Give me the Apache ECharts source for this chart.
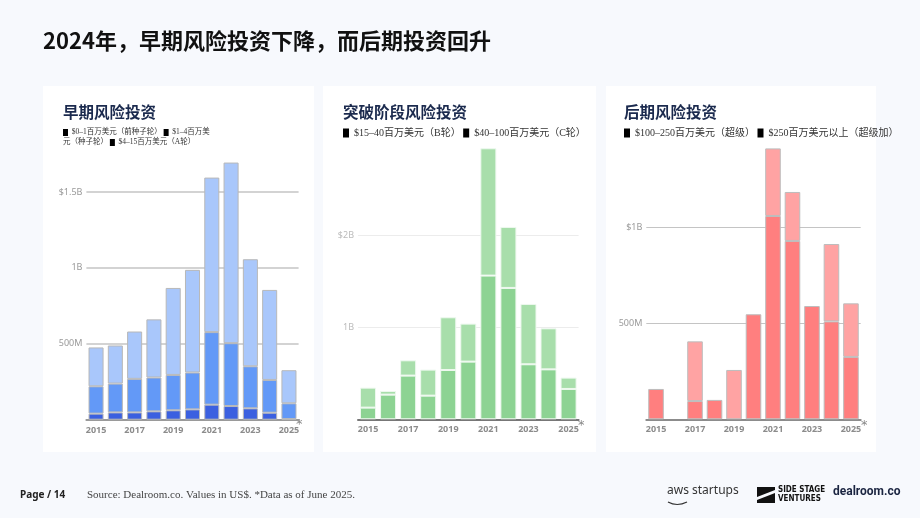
<!DOCTYPE html>
<html>
<head>
<meta charset="utf-8">
<script src="https://cdn.jsdelivr.net/npm/echarts@6/dist/echarts.min.js"></script>
<style>
  html, body { margin: 0; padding: 0; background: #f7f9fd; }
  #chart { width: 920px; height: 518px; }
</style>
</head>
<body>
<div id="chart"></div>
<script>
// 年份（类目）
const years = ['2015', '2016', '2017', '2018', '2019', '2020', '2021', '2022', '2023', '2024', '2025']

// 早期（百万美元）
const preSeed = [40, 48, 48, 55, 62, 68, 99, 90, 75, 46, 4]
const seed = [180, 190, 221, 223, 233, 243, 478, 414, 277, 216, 104]
const seriesA = [256, 251, 312, 383, 573, 676, 1018, 1190, 705, 593, 218]

// 突破阶段
const seriesB = [127, 268, 475, 257, 536, 627, 1562, 1428, 598, 543, 330]
const seriesC = [217, 40, 166, 283, 573, 413, 1384, 663, 656, 446, 123]

// 后期
const mega = [158, 0, 95, 101, 0, 547, 1059, 929, 590, 510, 325]
const superMega = [0, 0, 311, 0, 257, 0, 352, 255, 0, 403, 279]

// 刻度
const earlyTicks = { 500: '500M', 1000: '1B', 1500: '$1.5B' }
const breakoutTicks = { 1000: '1B', 2000: '$2B' }
const lateTicks = { 500: '500M', 1000: '$1B' }

const chart = echarts.init(document.getElementById('chart'))

const cjk = '"Noto Sans CJK SC", "Noto Sans", sans-serif'
const serif = '"Liberation Serif", "Noto Sans CJK SC", serif'

const xAxisFor = (gridIndex, lineColor) => ({
  type: 'category',
  gridIndex,
  data: years,
  axisTick: { show: false },
  axisLine: { lineStyle: { color: lineColor, width: 2 } },
  axisLabel: {
    interval: 1,
    margin: 6,
    fontSize: 9,
    fontWeight: 'bold',
    color: '#8c8c8c',
    fontFamily: '"Noto Sans", sans-serif'
  }
})

const yAxisFor = (gridIndex, max, interval, ticks, labelColor, gridColor, gridWidth) => ({
  type: 'value',
  gridIndex,
  min: 0,
  max,
  interval,
  axisLine: { show: false },
  axisTick: { show: false },
  axisLabel: {
    margin: 4,
    fontSize: 9,
    color: labelColor,
    fontFamily: '"Noto Sans", sans-serif',
    formatter: (v) => ticks[v] || ''
  },
  splitLine: { lineStyle: { color: gridColor, width: gridWidth } }
})

const barFor = (name, data, idx, stack, color, border, gap) => ({
  name,
  type: 'bar',
  xAxisIndex: idx,
  yAxisIndex: idx,
  stack,
  // 0 值不画（避免基线上出现细线）
  data: data.map((v) => (v === 0 ? '-' : v)),
  clip: false,
  barCategoryGap: gap,
  itemStyle: { color, borderColor: border, borderWidth: 1 },
  emphasis: { disabled: true }
})

// 图例文字（黑色方块 + 文本）
const legendText = (x, y, text, size, lh, sq) => ({
  type: 'text',
  left: x,
  top: y,
  style: {
    text,
    fontSize: size,
    lineHeight: lh,
    fill: '#333',
    fontFamily: serif,
    rich: {
      sq: { backgroundColor: '#000', width: sq[0], height: sq[1], fontSize: size }
    }
  }
})

const card = (x, w) => ({
  type: 'rect',
  shape: { x, y: 86, width: w, height: 366 },
  style: { fill: '#ffffff' },
  z: -10
})

const panelTitle = (x, text) => ({
  type: 'text',
  left: x,
  top: 104,
  style: { text, fontSize: 15.5, fontWeight: 'bold', fill: '#1b2a4e', fontFamily: cjk }
})

const star = (x, y) => ({
  type: 'text',
  left: x,
  top: y,
  style: { text: '*', fontSize: 13, fill: '#888', fontFamily: '"DejaVu Sans", sans-serif' }
})

const option = {
  backgroundColor: '#f7f9fd',
  animation: false,
  grid: [
    { left: 86.4, right: 621.4, top: 192, bottom: 98.3 },
    { left: 358, right: 341.4, top: 235.3, bottom: 98.7 },
    { left: 646.3, right: 59.3, top: 227.3, bottom: 98.7 }
  ],
  xAxis: [
    xAxisFor(0, '#9a9a9a'),
    xAxisFor(1, '#777777'),
    xAxisFor(2, '#8c8c8c')
  ],
  yAxis: [
    yAxisFor(0, 1500, 500, earlyTicks, '#999', '#c4c4c4', 1.5),
    yAxisFor(1, 2000, 1000, breakoutTicks, '#bbb', '#ececec', 1),
    yAxisFor(2, 1000, 500, lateTicks, '#999', '#c4c4c4', 1.2)
  ],
  series: [
    barFor('$0–1百万美元（前种子轮）', preSeed, 0, 'early', '#3b60e0', '#b8b8b8', '22%'),
    barFor('$1–4百万美元（种子轮）', seed, 0, 'early', '#6399f7', '#b8b8b8', '22%'),
    barFor('$4–15百万美元（A轮）', seriesA, 0, 'early', '#a9c7fb', '#b8b8b8', '22%'),
    barFor('$15–40百万美元（B轮）', seriesB, 1, 'breakout', '#8dd393', '#eef8ef', '20%'),
    barFor('$40–100百万美元（C轮）', seriesC, 1, 'breakout', '#a8deab', '#eef8ef', '20%'),
    barFor('$100–250百万美元（超级）', mega, 2, 'late', '#ff7f7f', '#bdbdbd', '20%'),
    barFor('$250百万美元以上（超级加）', superMega, 2, 'late', '#ffa3a3', '#bdbdbd', '20%')
  ],
  graphic: [
    card(43, 271),
    card(323, 273),
    card(606, 270),
    {
      type: 'text',
      left: 43,
      top: 30,
      style: {
        text: '2024年，早期风险投资下降，而后期投资回升',
        fontSize: 22,
        fontWeight: 'bold',
        fill: '#111',
        fontFamily: cjk
      }
    },
    panelTitle(63, '早期风险投资'),
    panelTitle(343, '突破阶段风险投资'),
    panelTitle(624, '后期风险投资'),
    legendText(63, 127.5, '{sq| }  $0–1百万美元（前种子轮） {sq| }  $1–4百万美\n元（种子轮） {sq| }  $4–15百万美元（A轮）', 7.5, 10, [5, 7]),
    legendText(343, 127, '{sq| }  $15–40百万美元（B轮） {sq| }  $40–100百万美元（C轮）', 10, 12, [6, 9]),
    legendText(624, 127, '{sq| }  $100–250百万美元（超级） {sq| }  $250百万美元以上（超级加）', 10, 12, [6, 9]),
    star(296, 418),
    star(578, 419),
    star(861, 419),
    // 页脚
    {
      type: 'text',
      left: 20,
      top: 490,
      style: { text: 'Page / 14', fontSize: 10, fontWeight: 'bold', fill: '#222', fontFamily: '"Noto Sans", sans-serif' }
    },
    {
      type: 'text',
      left: 87,
      top: 490,
      style: { text: 'Source: Dealroom.co. Values in US$. *Data as of June 2025.', fontSize: 11, fill: '#444', fontFamily: serif }
    },
    {
      type: 'text',
      left: 667,
      top: 485,
      style: { text: 'aws startups', fontSize: 12, fill: '#333', fontFamily: '"Noto Sans", sans-serif' }
    },
    {
      type: 'bezierCurve',
      shape: { x1: 668, y1: 502, x2: 687, y2: 502, cpx1: 677, cpy1: 507 },
      style: { stroke: '#333', lineWidth: 1.2, fill: null }
    },
    {
      type: 'polygon',
      shape: { points: [[757, 487], [775, 487], [775, 490], [757, 497]] },
      style: { fill: '#111' }
    },
    {
      type: 'polygon',
      shape: { points: [[757, 500], [775, 493], [775, 503], [757, 503]] },
      style: { fill: '#111' }
    },
    {
      type: 'text',
      left: 778,
      top: 486,
      style: {
        text: 'SIDE STAGE\nVENTURES',
        fontSize: 8,
        lineHeight: 8.5,
        fontWeight: 'bold',
        fill: '#111',
        fontFamily: '"DejaVu Sans Condensed", "Roboto Condensed", "Roboto", sans-serif'
      }
    },
    {
      type: 'text',
      left: 833,
      top: 486,
      style: { text: 'dealroom.co', fontSize: 12, fontWeight: 'bold', fill: '#1a2440', fontFamily: '"Roboto", sans-serif' }
    }
  ]
}

chart.setOption(option)
</script>
</body>
</html>
